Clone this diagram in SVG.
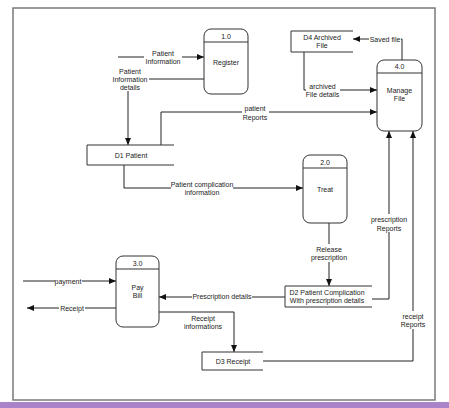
<svg xmlns="http://www.w3.org/2000/svg" width="449" height="408" viewBox="0 0 449 408">
<style>
text{font-family:"Liberation Sans",Arial,sans-serif;font-size:7px;fill:#222;text-anchor:middle}
.proc{fill:#fff;stroke:#333;stroke-width:1}
.store{fill:none;stroke:#333;stroke-width:1}
.flow{fill:none;stroke:#222;stroke-width:1}
.bg{fill:#fff}
</style>
<defs>
<marker id="ah" markerUnits="userSpaceOnUse" markerWidth="8" markerHeight="6" refX="7" refY="3" orient="auto">
<path d="M0,0 L7,3 L0,6 z" fill="#111"/>
</marker>
</defs>
<rect x="0" y="0" width="449" height="408" fill="#fff"/>
<rect x="13" y="8" width="422" height="392" fill="#fff" stroke="#7a7a7a" stroke-width="1.5"/>
<rect x="0" y="402" width="449" height="6" fill="#aa84c8"/>

<g id="connectors">
<path class="flow" d="M118,57 H204" marker-end="url(#ah)"/>
<path class="flow" d="M204,79 H128 V145" marker-end="url(#ah)"/>
<path class="flow" d="M161,145 V112 H377" marker-end="url(#ah)"/>
<path class="flow" d="M124,165 V188 H303" marker-end="url(#ah)"/>
<path class="flow" d="M329,223 V286" marker-end="url(#ah)"/>
<path class="flow" d="M402,60 V39 H353" marker-end="url(#ah)"/>
<path class="flow" d="M304,52 V90 H377" marker-end="url(#ah)"/>
<path class="flow" d="M372,299 H389 V131" marker-end="url(#ah)"/>
<path class="flow" d="M263,361 H413 V131" marker-end="url(#ah)"/>
<path class="flow" d="M23,281 H116" marker-end="url(#ah)"/>
<path class="flow" d="M116,308 H27" marker-end="url(#ah)"/>
<path class="flow" d="M285,297 H159" marker-end="url(#ah)"/>
<path class="flow" d="M159,312 H234 V352" marker-end="url(#ah)"/>

<rect class="bg" x="144" y="48" width="38" height="17"/>
<text x="163" y="55.5">Patient</text>
<text x="163" y="63.5">Information</text>

<rect class="bg" x="111" y="66" width="38" height="25"/>
<text x="130" y="73.5">Patient</text>
<text x="130" y="81.5">Information</text>
<text x="130" y="89.5">details</text>

<rect class="bg" x="242" y="103" width="27" height="18"/>
<text x="255" y="110.5">patient</text>
<text x="255" y="119.5">Reports</text>

<rect class="bg" x="171" y="179" width="62" height="17"/>
<text x="202" y="186.5">Patient complication</text>
<text x="202" y="194.5">information</text>

<rect class="bg" x="311" y="244" width="36" height="18"/>
<text x="329" y="251.5">Release</text>
<text x="329" y="260">prescription</text>

<rect class="bg" x="369" y="34" width="32" height="10"/>
<text x="385" y="41.5">Saved file</text>

<rect class="bg" x="306" y="81" width="34" height="17"/>
<text x="322.5" y="88.5">archived</text>
<text x="322.5" y="96.5">File details</text>

<rect class="bg" x="372" y="214" width="34" height="18"/>
<text x="389" y="221.5">prescription</text>
<text x="389" y="230.5">Reports</text>

<rect class="bg" x="401" y="311" width="25" height="18"/>
<text x="413" y="318.5">receipt</text>
<text x="413" y="326.5">Reports</text>

<rect class="bg" x="55" y="276" width="27" height="10"/>
<text x="68" y="283.5">payment</text>

<rect class="bg" x="59" y="303" width="26" height="10"/>
<text x="72" y="310.5">Receipt</text>

<rect class="bg" x="192" y="291" width="60" height="10"/>
<text x="222" y="298.5">Prescription details</text>

<text x="203" y="320.5">Receipt</text>
<text x="203" y="328.5">informations</text>
</g>

<g id="register">
<rect class="proc" x="204" y="29" width="44" height="65" rx="7"/>
<line class="store" x1="204" y1="42" x2="248" y2="42"/>
<text x="226" y="38.5">1.0</text>
<text x="226" y="64.5">Register</text>
</g>

<g id="manage-file">
<rect class="proc" x="377" y="60" width="45" height="71" rx="7"/>
<line class="store" x1="377" y1="73" x2="422" y2="73"/>
<text x="399.5" y="69">4.0</text>
<text x="399.5" y="93">Manage</text>
<text x="399.5" y="101">File</text>
</g>

<g id="treat">
<rect class="proc" x="303" y="155" width="44" height="68" rx="7"/>
<line class="store" x1="303" y1="168" x2="347" y2="168"/>
<text x="325" y="164.5">2.0</text>
<text x="325" y="191.5">Treat</text>
</g>

<g id="pay-bill">
<rect class="proc" x="116" y="256" width="43" height="71" rx="7"/>
<line class="store" x1="116" y1="269" x2="159" y2="269"/>
<text x="137.5" y="265.5">3.0</text>
<text x="137.5" y="290">Pay</text>
<text x="137.5" y="297.5">Bill</text>
</g>

<g id="d1-patient">
<path class="store" d="M174,145 H87 V165 H174"/>
<text x="131" y="157.5">D1 Patient</text>
</g>

<g id="d4-archived-file">
<path class="store" d="M353,31 H291 V52 H353"/>
<text x="322" y="39.5">D4 Archived</text>
<text x="322" y="47.5">File</text>
</g>

<g id="d2-patient-complication">
<path class="store" d="M372,286 H285 V307 H372"/>
<text x="327" y="294.5">D2 Patient Complication</text>
<text x="327" y="302.5">With prescription details</text>
</g>

<g id="d3-receipt">
<path class="store" d="M263,352 H202 V370 H263"/>
<text x="233" y="363.5">D3 Receipt</text>
</g>
</svg>
